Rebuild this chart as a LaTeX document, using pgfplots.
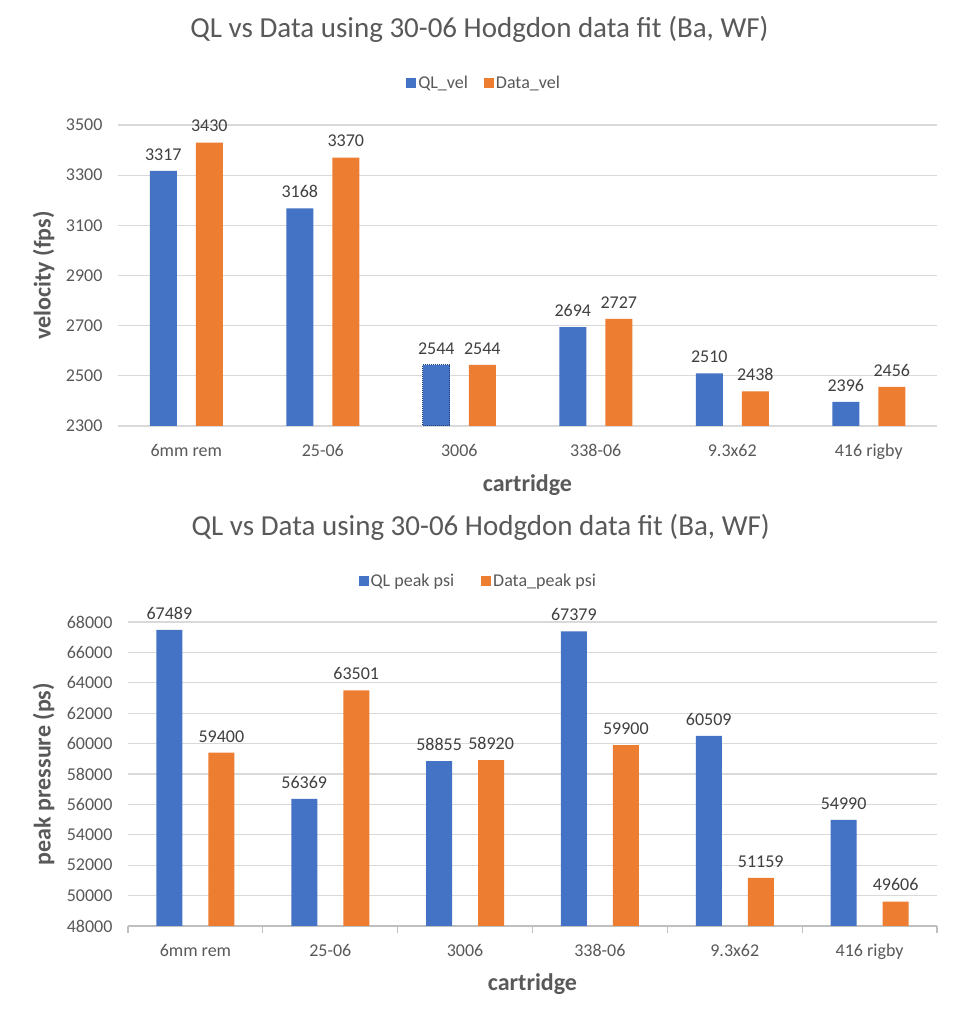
\documentclass[border=0pt]{standalone}
\usepackage{fontspec}
\setmainfont{Carlito}
\usepackage{pgfplots}
\pgfplotsset{compat=1.18}
\definecolor{qlblue}{HTML}{4472C4}
\definecolor{dorange}{HTML}{ED7D31}
\definecolor{gridc}{HTML}{D9D9D9}
\definecolor{axc}{HTML}{BFBFBF}
\definecolor{txt}{HTML}{595959}
\definecolor{lbl}{HTML}{404040}
\begin{document}
\begin{tikzpicture}
\path[fill=white] (0pt,0pt) rectangle (961pt,1025pt);
\pgfplotsset{
 common/.style={
  scale only axis, anchor=south west,
  ybar, xmin=-0.5, xmax=5.5, xtick={0,...,5},
  xticklabels={6mm rem,25-06,3006,338-06,9.3x62,416 rigby},
  ymajorgrids, grid style={gridc, line width=1.3pt},
  tick label style={font=\fontsize{18}{21}\selectfont, text=txt},
  xticklabel style={anchor=base, yshift=-31pt},
  yticklabel style={xshift=-12pt},
  scaled y ticks=false,
  /pgf/number format/assume math mode=true,
  /pgf/number format/1000 sep={},
  major tick length=0pt,
  title style={font=\fontsize{29}{34}\selectfont, text=txt, anchor=base},
  label style={font=\bfseries\fontsize{24}{28}\selectfont, text=txt},
  xlabel={cartridge},
  xlabel style={at={(axis description cs:0.5,0)}, anchor=base, yshift=-66pt},
  legend columns=2,
  legend style={draw=none, fill=none, font=\fontsize{18}{21}\selectfont, text=txt},
  legend image code/.code={\fill[##1, draw=none] (0pt,-5pt) rectangle (10pt,5pt);},
  every node near coord/.append style={font=\fontsize{18}{21}\selectfont, text=lbl, yshift=7pt},
 }
}
% ---------- top chart ----------
\begin{axis}[common,
  at={(118pt,599pt)}, width=819pt, height=301pt,
  ymin=2300, ymax=3500, ytick={2300,2500,...,3500},
  axis line style={draw=none},
  title={QL vs Data using 30-06 Hodgdon data fit (Ba, WF)},
  title style={at={(axis description cs:0.4414,1)}, yshift=81pt},
  ylabel={velocity (fps)},
  ylabel style={at={(axis description cs:0,0.5)}, anchor=center, yshift=74.5pt},
  legend style={at={(axis description cs:0.447,1)}, anchor=center, yshift=42pt,
    /tikz/every even column/.append style={column sep=14pt}},
  bar width=27pt,
]
\addplot[fill=qlblue, draw=none, bar shift=-23pt, nodes near coords] coordinates {
 (0,3317) (1,3168) (2,2544) (3,2694) (4,2510) (5,2396)};
\addlegendentry{QL\_vel}
\addplot[fill=dorange, draw=none, bar shift=23pt, nodes near coords] coordinates {
 (0,3430) (1,3370) (2,2544) (3,2727) (4,2438) (5,2456)};
\addlegendentry{Data\_vel}
\addplot[fill=none, draw=qlblue!60!black, densely dotted, line width=1pt, bar shift=-23pt, forget plot] coordinates {(2,2544)};
\end{axis}
% ---------- bottom chart ----------
\begin{axis}[common,
  at={(128pt,99pt)}, width=809pt, height=304pt,
  ymin=48000, ymax=68000, ytick={48000,50000,...,68000},
  axis x line*=bottom, axis y line*=left,
  y axis line style={draw=none},
  x axis line style={axc, line width=1.3pt},
  minor xtick={-0.5,0.5,...,5.5},
  minor tick length=7pt, tick align=outside,
  xtick style={draw=none}, minor x tick style={draw=axc, line width=1.3pt},
  ytick style={draw=none},
  xlabel style={yshift=1pt},
  title={QL vs Data using 30-06 Hodgdon data fit (Ba, WF)},
  title style={at={(axis description cs:0.436,1)}, yshift=80pt},
  ylabel={peak pressure (ps)},
  ylabel style={at={(axis description cs:0,0.5)}, anchor=center, yshift=84.5pt},
  legend style={at={(axis description cs:0.433,1)}, anchor=center, yshift=41pt,
    /tikz/every even column/.append style={column sep=25pt}},
  bar width=26pt,
]
\addplot[fill=qlblue, draw=none, bar shift=-26pt, nodes near coords] coordinates {
 (0,67489) (1,56369) (2,58855) (3,67379) (4,60509) (5,54990)};
\addlegendentry{QL peak psi}
\addplot[fill=dorange, draw=none, bar shift=26pt, nodes near coords] coordinates {
 (0,59400) (1,63501) (2,58920) (3,59900) (4,51159) (5,49606)};
\addlegendentry{Data\_peak psi}
\end{axis}
\end{tikzpicture}
\end{document}
